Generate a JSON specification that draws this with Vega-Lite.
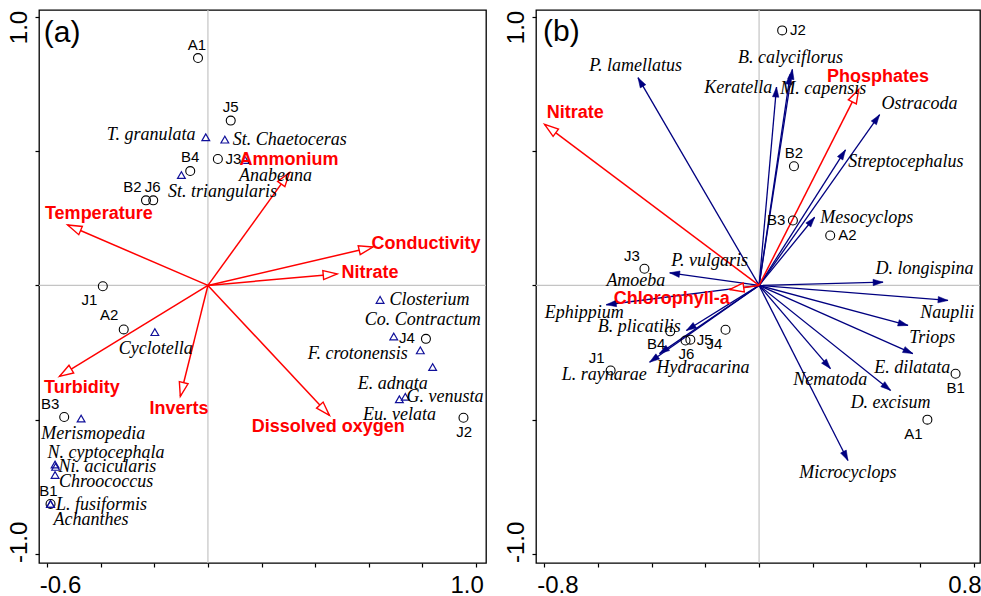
{
  "$schema": "https://vega.github.io/schema/vega-lite/v6.json",
  "background": "white",
  "padding": {"left": 6, "top": 8, "right": 0, "bottom": 0},
  "bounds": "flush",
  "spacing": 50,
  "resolve": {"scale": {"x": "independent", "y": "independent"}},
  "config": {
    "view": {"stroke": "black", "strokeWidth": 1.3},
    "axis": {"domain": false, "grid": false, "ticks": true, "tickColor": "black", "tickSize": 4, "tickWidth": 1.2, "labelFont": "Liberation Sans", "labelFontSize": 24, "labelColor": "black", "labelOverlap": false}
  },
  "datasets": {
    "aSites": [
      {"name": "A1", "x": -0.037, "y": 0.847, "lx": -0.041, "ly": 0.897},
      {"name": "J5", "x": 0.085, "y": 0.614, "lx": 0.085, "ly": 0.664},
      {"name": "J3", "x": 0.037, "y": 0.471, "lx": 0.095, "ly": 0.471},
      {"name": "B4", "x": -0.066, "y": 0.426, "lx": -0.066, "ly": 0.478},
      {"name": "B2", "x": -0.231, "y": 0.317, "lx": -0.282, "ly": 0.368},
      {"name": "J6", "x": -0.204, "y": 0.317, "lx": -0.206, "ly": 0.368},
      {"name": "J1", "x": -0.392, "y": -0.003, "lx": -0.442, "ly": -0.056},
      {"name": "A2", "x": -0.314, "y": -0.164, "lx": -0.368, "ly": -0.112},
      {"name": "B3", "x": -0.536, "y": -0.49, "lx": -0.588, "ly": -0.44},
      {"name": "B1", "x": -0.587, "y": -0.814, "lx": -0.595, "ly": -0.767},
      {"name": "J4", "x": 0.813, "y": -0.199, "lx": 0.742, "ly": -0.196},
      {"name": "J2", "x": 0.953, "y": -0.493, "lx": 0.956, "ly": -0.546}
    ],
    "aSpecies": [
      {"name": "T. granulata", "x": -0.008, "y": 0.552, "lx": -0.212, "ly": 0.562},
      {"name": "St. Chaetoceras", "x": 0.063, "y": 0.543, "lx": 0.305, "ly": 0.543},
      {"name": "Anabeana", "x": 0.139, "y": 0.467, "lx": 0.252, "ly": 0.407},
      {"name": "St. triangularis", "x": -0.099, "y": 0.411, "lx": 0.054, "ly": 0.348},
      {"name": "Cyclotella", "x": -0.198, "y": -0.174, "lx": -0.195, "ly": -0.236},
      {"name": "Merismopedia", "x": -0.473, "y": -0.496, "lx": -0.428, "ly": -0.552},
      {"name": "N. cyptocephala", "x": -0.57, "y": -0.667, "lx": -0.38, "ly": -0.626},
      {"name": "Ni. acicularis", "x": -0.568, "y": -0.676, "lx": -0.375, "ly": -0.676},
      {"name": "Chroococcus", "x": -0.57, "y": -0.706, "lx": -0.38, "ly": -0.734},
      {"name": "L. fusiformis", "x": -0.587, "y": -0.814, "lx": -0.397, "ly": -0.818},
      {"name": "Achanthes", "x": -0.587, "y": -0.814, "lx": -0.436, "ly": -0.875},
      {"name": "Closterium", "x": 0.642, "y": -0.054, "lx": 0.826, "ly": -0.056},
      {"name": "Co. Contractum", "x": 0.693, "y": -0.19, "lx": 0.801, "ly": -0.127},
      {"name": "F. crotonensis", "x": 0.792, "y": -0.242, "lx": 0.559, "ly": -0.257},
      {"name": "E. adnata", "x": 0.838, "y": -0.304, "lx": 0.689, "ly": -0.369},
      {"name": "G. venusta", "x": 0.736, "y": -0.415, "lx": 0.884, "ly": -0.415},
      {"name": "Eu. velata", "x": 0.714, "y": -0.424, "lx": 0.714, "ly": -0.484}
    ],
    "aEnv": [
      {"name": "Temperature", "x": -0.523, "y": 0.225, "lx": -0.407, "ly": 0.267},
      {"name": "Ammonium", "x": 0.304, "y": 0.42, "lx": 0.302, "ly": 0.467},
      {"name": "Conductivity", "x": 0.615, "y": 0.143, "lx": 0.813, "ly": 0.155},
      {"name": "Nitrate", "x": 0.482, "y": 0.043, "lx": 0.604, "ly": 0.046},
      {"name": "Turbidity", "x": -0.554, "y": -0.339, "lx": -0.47, "ly": -0.381},
      {"name": "Inverts", "x": -0.103, "y": -0.413, "lx": -0.108, "ly": -0.459},
      {"name": "Dissolved oxygen", "x": 0.453, "y": -0.484, "lx": 0.449, "ly": -0.528}
    ],
    "bArrows": [
      {"name": "Nitrate", "kind": "env", "x": -0.799, "y": 0.6, "lx": -0.685, "ly": 0.643},
      {"name": "Phosphates", "kind": "env", "x": 0.371, "y": 0.73, "lx": 0.443, "ly": 0.776},
      {"name": "Chlorophyll-a", "kind": "env", "x": -0.109, "y": -0.015, "lx": -0.325, "ly": -0.05},
      {"name": "P. lamellatus", "kind": "species", "x": -0.451, "y": 0.774, "lx": -0.46, "ly": 0.819},
      {"name": "B. calyciflorus", "kind": "species", "x": 0.124, "y": 0.805, "lx": 0.117, "ly": 0.846},
      {"name": "M. capensis", "kind": "species", "x": 0.116, "y": 0.786, "lx": 0.239, "ly": 0.733},
      {"name": "Keratella", "kind": "species", "x": 0.065, "y": 0.739, "lx": -0.078, "ly": 0.736},
      {"name": "Ostracoda", "kind": "species", "x": 0.449, "y": 0.636, "lx": 0.598, "ly": 0.677},
      {"name": "Streptocephalus", "kind": "species", "x": 0.322, "y": 0.505, "lx": 0.547, "ly": 0.459},
      {"name": "Mesocyclops", "kind": "species", "x": 0.207, "y": 0.254, "lx": 0.401, "ly": 0.252},
      {"name": "D. longispina", "kind": "species", "x": 0.462, "y": 0.012, "lx": 0.616, "ly": 0.062},
      {"name": "P. vulgaris", "kind": "species", "x": -0.333, "y": 0.047, "lx": -0.184, "ly": 0.091},
      {"name": "Amoeba", "kind": "species", "x": null, "y": null, "lx": -0.459, "ly": 0.015},
      {"name": "Nauplii", "kind": "species", "x": 0.704, "y": -0.056, "lx": 0.701, "ly": -0.102},
      {"name": "Triops", "kind": "species", "x": 0.555, "y": -0.149, "lx": 0.645, "ly": -0.195},
      {"name": "E. dilatata", "kind": "species", "x": 0.573, "y": -0.254, "lx": 0.571, "ly": -0.307},
      {"name": "Nematoda", "kind": "species", "x": 0.266, "y": -0.31, "lx": 0.265, "ly": -0.354},
      {"name": "D. excisum", "kind": "species", "x": 0.49, "y": -0.391, "lx": 0.49, "ly": -0.438},
      {"name": "Microcyclops", "kind": "species", "x": 0.331, "y": -0.652, "lx": 0.331, "ly": -0.698},
      {"name": "Ephippium", "kind": "species", "x": -0.569, "y": -0.072, "lx": -0.651, "ly": -0.102},
      {"name": "B. plicatilis", "kind": "species", "x": -0.271, "y": -0.168, "lx": -0.446, "ly": -0.155},
      {"name": "Hydracarina", "kind": "species", "x": -0.371, "y": -0.254, "lx": -0.209, "ly": -0.308},
      {"name": "L. raynarae", "kind": "species", "x": -0.408, "y": -0.286, "lx": -0.577, "ly": -0.335}
    ],
    "bSites": [
      {"name": "J2", "x": 0.086, "y": 0.95, "lx": 0.145, "ly": 0.95},
      {"name": "B2", "x": 0.13, "y": 0.444, "lx": 0.13, "ly": 0.494},
      {"name": "B3", "x": 0.126, "y": 0.242, "lx": 0.064, "ly": 0.242},
      {"name": "A2", "x": 0.265, "y": 0.186, "lx": 0.329, "ly": 0.186},
      {"name": "J3", "x": -0.427, "y": 0.062, "lx": -0.474, "ly": 0.108},
      {"name": "B4", "x": -0.331, "y": -0.171, "lx": -0.383, "ly": -0.22},
      {"name": "J6", "x": -0.274, "y": -0.205, "lx": -0.271, "ly": -0.254},
      {"name": "J5", "x": -0.256, "y": -0.202, "lx": -0.203, "ly": -0.205},
      {"name": "J4", "x": -0.125, "y": -0.165, "lx": -0.166, "ly": -0.217},
      {"name": "J1", "x": -0.553, "y": -0.317, "lx": -0.605, "ly": -0.27},
      {"name": "B1", "x": 0.732, "y": -0.329, "lx": 0.732, "ly": -0.381},
      {"name": "A1", "x": 0.627, "y": -0.5, "lx": 0.575, "ly": -0.552}
    ]
  },
  "hconcat": [
    {
      "width": 447,
      "height": 553,
      "layer": [
        {
          "data": {"values": [{"v": 0}]},
          "mark": {"type": "rule", "color": "#c4c4c4", "strokeWidth": 1.2},
          "encoding": {
            "x": {"field": "v", "type": "quantitative", "title": null,
              "scale": {"domain": [-0.63, 1.037], "nice": false, "zero": false},
              "axis": {"values": [-0.6, -0.4, -0.2, 0, 0.2, 0.4, 0.6, 0.8, 1], "labelExpr": "datum.value == -0.6 ? '-0.6' : (datum.value == 1 ? '1.0' : '')", "labelBaseline": "top", "labelPadding": 6, "labelOffset": {"condition": {"test": "datum.value < 0", "value": 13}, "value": -9.5}, "title": null}}
          }
        },
        {
          "data": {"values": [{"v": 0}]},
          "mark": {"type": "rule", "color": "#c4c4c4", "strokeWidth": 1.2},
          "encoding": {
            "y": {"field": "v", "type": "quantitative", "title": null,
              "scale": {"domain": [-1.034, 1.026], "nice": false, "zero": false},
              "axis": {"values": [-1, -0.5, 0, 0.5, 1], "labelExpr": "datum.value == 1 ? '1.0' : (datum.value == -1 ? '-1.0' : '')", "labelAngle": -90, "labelAlign": "center", "labelBaseline": "alphabetic", "labelPadding": 9, "labelOffset": {"condition": {"test": "datum.value > 0", "value": 10}, "value": -12}, "title": null}}
          }
        },
        {
          "data": {"name": "aEnv"},
          "mark": {"type": "rule", "color": "#ff0000", "strokeWidth": 1.5},
          "encoding": {
            "x": {"field": "x", "type": "quantitative", "title": null},
            "y": {"field": "y", "type": "quantitative", "title": null},
            "x2": {"datum": 0},
            "y2": {"datum": 0}
          }
        },
        {
          "data": {"name": "aEnv"},
          "transform": [{"calculate": "atan2(datum.x, datum.y) * 180 / PI", "as": "ang"}],
          "mark": {"type": "point", "shape": "M0,0L-0.32,1L0.32,1Z", "filled": true, "fill": "white", "stroke": "#ff0000", "strokeWidth": 1.4, "size": 784, "opacity": 1},
          "encoding": {
            "x": {"field": "x", "type": "quantitative", "title": null},
            "y": {"field": "y", "type": "quantitative", "title": null},
            "angle": {"field": "ang", "type": "quantitative", "scale": null}
          }
        },
        {
          "data": {"name": "aSites"},
          "mark": {"type": "point", "shape": "circle", "filled": false, "stroke": "black", "strokeWidth": 1.1, "size": 80, "opacity": 1},
          "encoding": {
            "x": {"field": "x", "type": "quantitative", "title": null},
            "y": {"field": "y", "type": "quantitative", "title": null}
          }
        },
        {
          "data": {"name": "aSpecies"},
          "mark": {"type": "point", "shape": "triangle-up", "filled": false, "stroke": "#10109a", "strokeWidth": 1.2, "size": 60, "opacity": 1},
          "encoding": {
            "x": {"field": "x", "type": "quantitative", "title": null},
            "y": {"field": "y", "type": "quantitative", "title": null}
          }
        },
        {
          "data": {"name": "aSites"},
          "mark": {"type": "text", "font": "Liberation Sans", "fontSize": 15, "color": "black", "align": "center", "baseline": "middle"},
          "encoding": {
            "x": {"field": "lx", "type": "quantitative", "title": null},
            "y": {"field": "ly", "type": "quantitative", "title": null},
            "text": {"field": "name"}
          }
        },
        {
          "data": {"name": "aSpecies"},
          "mark": {"type": "text", "font": "Liberation Serif", "fontStyle": "italic", "fontSize": 18, "color": "black", "align": "center", "baseline": "middle"},
          "encoding": {
            "x": {"field": "lx", "type": "quantitative", "title": null},
            "y": {"field": "ly", "type": "quantitative", "title": null},
            "text": {"field": "name"}
          }
        },
        {
          "data": {"name": "aEnv"},
          "mark": {"type": "text", "font": "Liberation Sans", "fontWeight": "bold", "fontSize": 18, "color": "#ff0000", "align": "center", "baseline": "middle"},
          "encoding": {
            "x": {"field": "lx", "type": "quantitative", "title": null},
            "y": {"field": "ly", "type": "quantitative", "title": null},
            "text": {"field": "name"}
          }
        },
        {
          "data": {"values": [{"label": "(a)", "x": -0.612, "y": 0.942}]},
          "mark": {"type": "text", "font": "Liberation Sans", "fontSize": 30, "color": "black", "align": "left", "baseline": "middle"},
          "encoding": {
            "x": {"field": "x", "type": "quantitative", "title": null},
            "y": {"field": "y", "type": "quantitative", "title": null},
            "text": {"field": "label"}
          }
        }
      ]
    },
    {
      "width": 444,
      "height": 553,
      "layer": [
        {
          "data": {"values": [{"v": 0}]},
          "mark": {"type": "rule", "color": "#c4c4c4", "strokeWidth": 1.2},
          "encoding": {
            "x": {"field": "v", "type": "quantitative", "title": null,
              "scale": {"domain": [-0.831, 0.823], "nice": false, "zero": false},
              "axis": {"values": [-0.8, -0.6, -0.4, -0.2, 0, 0.2, 0.4, 0.6, 0.8], "labelExpr": "datum.value == -0.8 ? '-0.8' : (datum.value == 0.8 ? '0.8' : '')", "labelBaseline": "top", "labelPadding": 6, "labelOffset": {"condition": {"test": "datum.value < 0", "value": 13}, "value": -9.5}, "title": null}}
          }
        },
        {
          "data": {"values": [{"v": 0}]},
          "mark": {"type": "rule", "color": "#c4c4c4", "strokeWidth": 1.2},
          "encoding": {
            "y": {"field": "v", "type": "quantitative", "title": null,
              "scale": {"domain": [-1.034, 1.026], "nice": false, "zero": false},
              "axis": {"values": [-1, -0.5, 0, 0.5, 1], "labelExpr": "datum.value == 1 ? '1.0' : (datum.value == -1 ? '-1.0' : '')", "labelAngle": -90, "labelAlign": "center", "labelBaseline": "alphabetic", "labelPadding": 9, "labelOffset": {"condition": {"test": "datum.value > 0", "value": 10}, "value": -12}, "title": null}}
          }
        },
        {
          "data": {"name": "bArrows"},
          "transform": [{"filter": "datum.kind == 'species' && datum.x != null"}],
          "mark": {"type": "rule", "color": "#000080", "strokeWidth": 1.3},
          "encoding": {
            "x": {"field": "x", "type": "quantitative", "title": null},
            "y": {"field": "y", "type": "quantitative", "title": null},
            "x2": {"datum": 0},
            "y2": {"datum": 0}
          }
        },
        {
          "data": {"name": "bArrows"},
          "transform": [{"filter": "datum.kind == 'species' && datum.x != null"}, {"calculate": "atan2(datum.x, datum.y) * 180 / PI", "as": "ang"}],
          "mark": {"type": "point", "shape": "M0,0L-0.32,1L0.32,1Z", "filled": true, "fill": "#000080", "stroke": "#000080", "strokeWidth": 0.5, "size": 400, "opacity": 1},
          "encoding": {
            "x": {"field": "x", "type": "quantitative", "title": null},
            "y": {"field": "y", "type": "quantitative", "title": null},
            "angle": {"field": "ang", "type": "quantitative", "scale": null}
          }
        },
        {
          "data": {"name": "bArrows"},
          "transform": [{"filter": "datum.kind == 'env'"}],
          "mark": {"type": "rule", "color": "#ff0000", "strokeWidth": 1.5},
          "encoding": {
            "x": {"field": "x", "type": "quantitative", "title": null},
            "y": {"field": "y", "type": "quantitative", "title": null},
            "x2": {"datum": 0},
            "y2": {"datum": 0}
          }
        },
        {
          "data": {"name": "bArrows"},
          "transform": [{"filter": "datum.kind == 'env'"}, {"calculate": "atan2(datum.x, datum.y) * 180 / PI", "as": "ang"}],
          "mark": {"type": "point", "shape": "M0,0L-0.32,1L0.32,1Z", "filled": true, "fill": "white", "stroke": "#ff0000", "strokeWidth": 1.4, "size": 784, "opacity": 1},
          "encoding": {
            "x": {"field": "x", "type": "quantitative", "title": null},
            "y": {"field": "y", "type": "quantitative", "title": null},
            "angle": {"field": "ang", "type": "quantitative", "scale": null}
          }
        },
        {
          "data": {"name": "bSites"},
          "mark": {"type": "point", "shape": "circle", "filled": false, "stroke": "black", "strokeWidth": 1.1, "size": 80, "opacity": 1},
          "encoding": {
            "x": {"field": "x", "type": "quantitative", "title": null},
            "y": {"field": "y", "type": "quantitative", "title": null}
          }
        },
        {
          "data": {"name": "bSites"},
          "mark": {"type": "text", "font": "Liberation Sans", "fontSize": 15, "color": "black", "align": "center", "baseline": "middle"},
          "encoding": {
            "x": {"field": "lx", "type": "quantitative", "title": null},
            "y": {"field": "ly", "type": "quantitative", "title": null},
            "text": {"field": "name"}
          }
        },
        {
          "data": {"name": "bArrows"},
          "transform": [{"filter": "datum.kind == 'species'"}],
          "mark": {"type": "text", "font": "Liberation Serif", "fontStyle": "italic", "fontSize": 18, "color": "black", "align": "center", "baseline": "middle"},
          "encoding": {
            "x": {"field": "lx", "type": "quantitative", "title": null},
            "y": {"field": "ly", "type": "quantitative", "title": null},
            "text": {"field": "name"}
          }
        },
        {
          "data": {"name": "bArrows"},
          "transform": [{"filter": "datum.kind == 'env'"}],
          "mark": {"type": "text", "font": "Liberation Sans", "fontWeight": "bold", "fontSize": 18, "color": "#ff0000", "align": "center", "baseline": "middle"},
          "encoding": {
            "x": {"field": "lx", "type": "quantitative", "title": null},
            "y": {"field": "ly", "type": "quantitative", "title": null},
            "text": {"field": "name"}
          }
        },
        {
          "data": {"values": [{"label": "(b)", "x": -0.805, "y": 0.943}]},
          "mark": {"type": "text", "font": "Liberation Sans", "fontSize": 30, "color": "black", "align": "left", "baseline": "middle"},
          "encoding": {
            "x": {"field": "x", "type": "quantitative", "title": null},
            "y": {"field": "y", "type": "quantitative", "title": null},
            "text": {"field": "label"}
          }
        }
      ]
    }
  ]
}
